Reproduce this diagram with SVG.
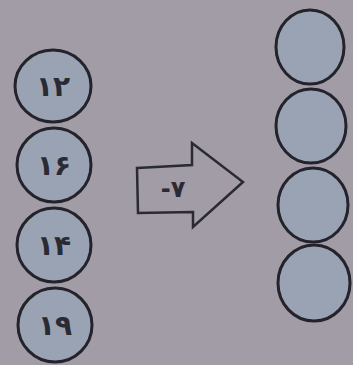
<svg xmlns="http://www.w3.org/2000/svg" width="353" height="365" viewBox="0 0 353 365">
<style>
.c{fill:#99a3b3;stroke:#24232c;stroke-width:3}
.t{font-family:"DejaVu Sans",sans-serif;font-size:28px;font-weight:bold;fill:#2a2a33;text-anchor:middle}
</style>
<rect width="353" height="365" fill="#a19ca6"/>
<g id="n12"><ellipse class="c" cx="53" cy="86" rx="38" ry="36"/><text class="t" x="53" y="96">۱۲</text></g>
<g id="n16"><ellipse class="c" cx="54" cy="165" rx="37" ry="37"/><text class="t" x="54" y="175">۱۶</text></g>
<g id="n14"><ellipse class="c" cx="54" cy="245" rx="37" ry="37"/><text class="t" x="54" y="255">۱۴</text></g>
<g id="n19"><ellipse class="c" cx="55" cy="325" rx="37" ry="37"/><text class="t" x="55" y="335">۱۹</text></g>
<g id="arrow"><path d="M137,168 L192,165 L192,143 L243,182 L193,227 L193,212 L138,213 Z" fill="#a19ca6" stroke="#2a2a33" stroke-width="2.5" stroke-linejoin="miter"/><text class="t" x="173" y="197" style="font-size:24px">-۷</text></g>
<g id="r1"><ellipse class="c" cx="310" cy="47" rx="34" ry="37"/></g>
<g id="r2"><ellipse class="c" cx="311" cy="126" rx="35" ry="37"/></g>
<g id="r3"><ellipse class="c" cx="313" cy="205" rx="35" ry="37"/></g>
<g id="r4"><ellipse class="c" cx="314" cy="283" rx="36" ry="38"/></g>
</svg>
